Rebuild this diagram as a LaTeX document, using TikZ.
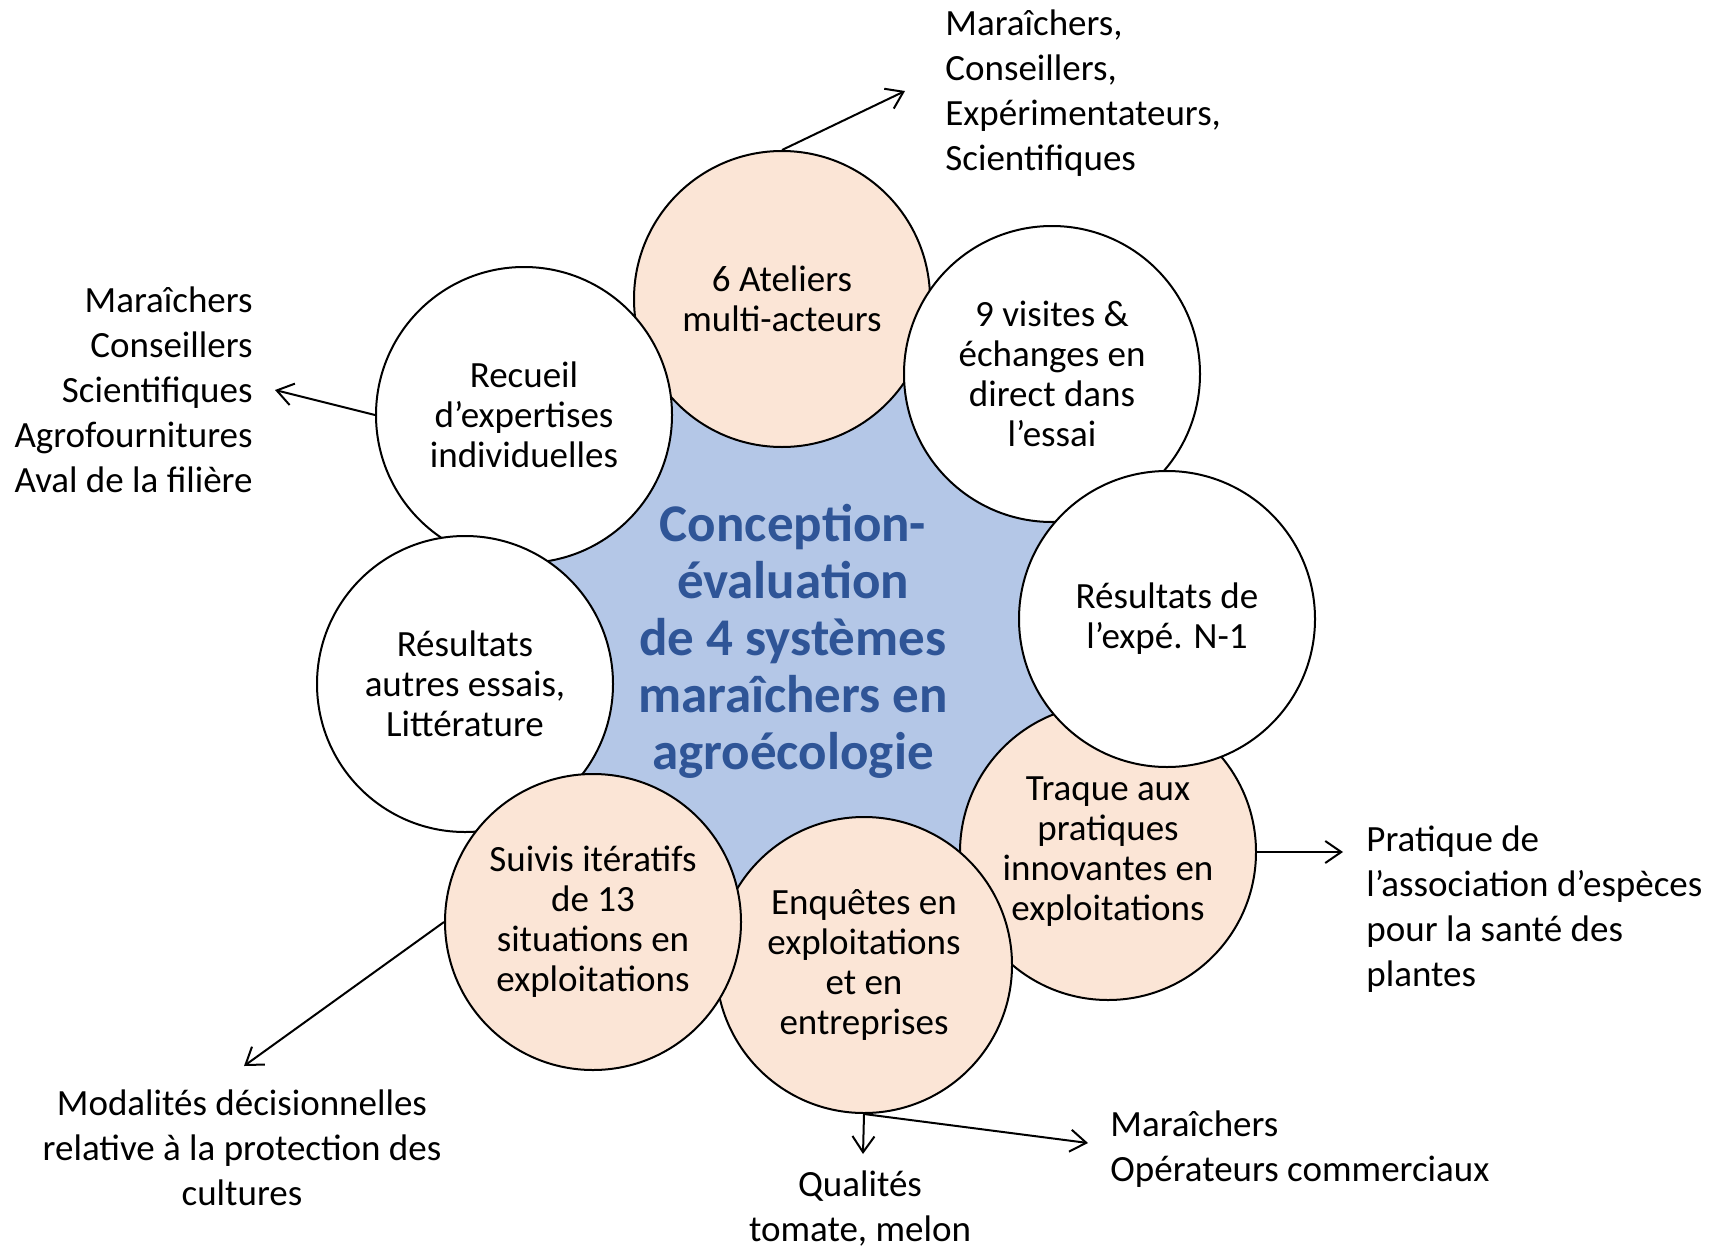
\documentclass[tikz,border=0pt]{standalone}
\usepackage{fontspec}
\setmainfont{Carlito}
\usepackage{xcolor}
\usepackage{tikz}
\usetikzlibrary{arrows.meta}

\definecolor{peche}{RGB}{251,229,214}
\definecolor{bleuclair}{RGB}{180,199,231}
\definecolor{bleufonce}{RGB}{47,85,151}

\tikzset{
  bulle/.style={circle,draw=black,line width=1pt,minimum size=148pt,inner sep=0pt,align=center,
    font=\fontsize{18.5}{20}\selectfont},
  bullerose/.style={bulle,fill=peche},
  bulleblanche/.style={bulle,fill=white},
  legende/.style={inner sep=0pt,font=\fontsize{18.5}{22.5}\selectfont},
  fleche/.style={line width=1pt,-{Straight Barb[length=8pt,width=11pt]}}
}

\begin{document}
\begin{tikzpicture}[x=0.5pt,y=0.5pt,yscale=-1,xscale=1]
\useasboundingbox (0,0) rectangle (1723,1252);

% centres des bulles
\coordinate (cAte) at (782,299);
\coordinate (cVis) at (1052,374);
\coordinate (cRes) at (1167,619);
\coordinate (cTra) at (1108,852);
\coordinate (cEnq) at (864,965);
\coordinate (cSui) at (593,922);
\coordinate (cAut) at (465,684);
\coordinate (cRec) at (524,415);

%Shape: Polygon
\fill[bleuclair] (cAte) -- (cVis) -- (cRes) -- (cTra) -- (cEnq) -- (cSui) -- (cAut) -- (cRec) -- cycle;

%Shape: Circle
\node[bullerose] (Ateliers) at (cAte) {6 Ateliers\\multi-acteurs};
\node[bullerose] (Traque) at (cTra) {Traque aux\\pratiques\\innovantes en\\exploitations};
\node[bulleblanche] (Recueil) at (cRec) {Recueil\\d’expertises\\individuelles};
\node[bulleblanche] (Visites) at (cVis) {9 visites \&\\échanges en\\direct dans\\l’essai};
\node[bullerose] (Enquetes) at (cEnq) {Enquêtes en\\exploitations\\et en\\entreprises};
\node[bulleblanche] (Autres) at (cAut) {Résultats\\autres essais,\\Littérature};
\node[bulleblanche] (ResN) at (cRes) {Résultats de\\l’expé. N-1};
\node[bullerose] (Suivis) at (cSui) {Suivis itératifs\\de 13\\situations en\\exploitations};

% Text Node
\node[align=center,text=bleufonce,font=\fontsize{26.5}{28.5}\selectfont\bfseries] (Centre) at (793,641)
  {Conception-\\évaluation\\de 4 systèmes\\maraîchers en\\agroécologie};

% Text Node
\node[legende,anchor=west,align=left] (lblAte) at (945,93) {Maraîchers,\\Conseillers,\\Expérimentateurs,\\Scientifiques};
\node[legende,anchor=east,align=right] (lblRec) at (253,390) {Maraîchers\\Conseillers\\Scientifiques\\Agrofournitures\\Aval de la filière};
\node[legende,anchor=west,align=left] (lblTra) at (1366,909) {Pratique de\\l’association d’espèces\\pour la santé des\\plantes};
\node[legende,align=center] (lblSui) at (242,1148) {Modalités décisionnelles\\relative à la protection des\\cultures};
\node[legende,align=center] (lblQua) at (860,1209) {Qualités\\tomate, melon};
\node[legende,anchor=west,align=left] (lblOpe) at (1110,1149) {Maraîchers\\Opérateurs commerciaux};

% pointes des fleches
\coordinate (pAte) at (905,91);
\coordinate (pRec) at (275,390);
\coordinate (pTra) at (1343,852);
\coordinate (pSui) at (244,1066);
\coordinate (pQua) at (863,1154);
\coordinate (pOpe) at (1088,1143);

%Straight Lines
\draw[fleche] (Ateliers.north) -- (pAte);
\draw[fleche] (Recueil.west) -- (pRec);
\draw[fleche] (Traque.east) -- (pTra);
\draw[fleche] (Suivis.west) -- (pSui);
\draw[fleche] (Enquetes.south) -- (pQua);
\draw[fleche] (Enquetes.south) -- (pOpe);

\end{tikzpicture}
\end{document}
